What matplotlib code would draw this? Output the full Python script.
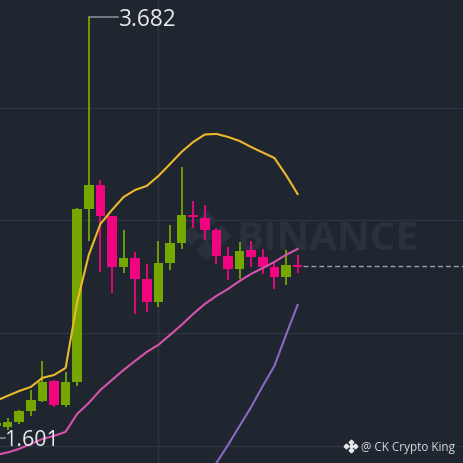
import matplotlib
matplotlib.use("Agg")
import matplotlib.pyplot as plt
import numpy as np

# kolejne swiece, od lewej
opens = [1.660, 1.657, 1.680, 1.734, 1.785, 1.884, 1.764, 1.879, 2.733, 2.852, 2.698, 2.445, 2.491, 2.387,
         2.272, 2.467, 2.566, 2.703, 2.687, 2.629, 2.501, 2.438, 2.530, 2.494, 2.445, 2.398, 2.456]
closes = [1.675, 1.682, 1.734, 1.789, 1.879, 1.764, 1.878, 2.733, 2.852, 2.700, 2.446, 2.492, 2.388, 2.272,
          2.467, 2.563, 2.703, 2.693, 2.629, 2.501, 2.438, 2.527, 2.494, 2.445, 2.398, 2.456, 2.446]
highs = [1.690, 1.700, 1.739, 1.838, 1.983, 1.888, 1.927, 2.738, 3.682, 2.876, 2.698, 2.629, 2.520, 2.461,
         2.576, 2.654, 2.941, 2.772, 2.753, 2.639, 2.547, 2.568, 2.575, 2.535, 2.466, 2.530, 2.506]
lows = [1.601, 1.640, 1.670, 1.711, 1.779, 1.754, 1.754, 1.859, 2.576, 2.423, 2.319, 2.418, 2.214, 2.225,
        2.250, 2.431, 2.535, 2.640, 2.580, 2.461, 2.382, 2.387, 2.448, 2.410, 2.337, 2.359, 2.418]

# wstegi Bollingera
upper = [1.784, 1.809, 1.833, 1.853, 1.898, 1.912, 1.947, 2.273, 2.506, 2.659, 2.728, 2.792, 2.827, 2.847,
         2.896, 2.955, 3.015, 3.064, 3.101, 3.104, 3.089, 3.069, 3.039, 3.012, 2.985, 2.901, 2.807]
middle = [1.517, 1.529, 1.547, 1.571, 1.596, 1.611, 1.631, 1.720, 1.774, 1.838, 1.888, 1.937, 1.982, 2.026,
          2.061, 2.110, 2.160, 2.214, 2.263, 2.303, 2.337, 2.377, 2.412, 2.441, 2.471, 2.506, 2.535]
lower = [1.383, 1.477, 1.566, 1.660, 1.754, 1.858, 1.957, 2.110, 2.258]
lower_start = 18

grid_prices = [3.232, 2.679, 2.120, 1.561]
grid_candle = 14
last_price = 2.451

BG = "#1f2630"
GREEN = "#76a700"
PINK = "#f0047f"

fig = plt.figure(figsize=(4.63, 4.63), dpi=100, facecolor=BG)
ax = fig.add_axes([0, 0, 1, 1], facecolor=BG)
ax.set_xlim(0.345, 40.26)
ax.set_ylim(1.477, 3.766)
ax.axis("off")

for p in grid_prices:
    ax.axhline(p, color="#2d3540", lw=1.0, zorder=1)
ax.axvline(grid_candle, color="#2d3540", lw=1.0, zorder=1)

# znak wodny
ax.text(0.708, 0.4925, "BINANCE", transform=ax.transAxes, ha="center", va="center_baseline", fontsize=29,
        fontweight="bold", family="Open Sans", color="#2a313d", zorder=1.5)
logo_x = 0.445
logo_y = 0.4925
ax.plot([logo_x], [logo_y], "D", ms=7, color="#2a313d", transform=ax.transAxes, zorder=1.5)
for dx, dy in [(-0.032, 0), (0.032, 0), (0, -0.032), (0, 0.032)]:
    ax.plot([logo_x + dx], [logo_y + dy], "D", ms=9, color="#2a313d", transform=ax.transAxes, zorder=1.5)

x = np.arange(len(opens))
opens_a = np.array(opens)
closes_a = np.array(closes)
colors = [GREEN if c >= o else PINK for o, c in zip(opens, closes)]
ax.vlines(x, lows, highs, colors=colors, lw=1.3, zorder=2)
ax.bar(x, np.abs(closes_a - opens_a), bottom=np.minimum(opens_a, closes_a), width=0.82, color=colors, zorder=2)

ax.plot(x, upper, color="#eeb82c", lw=1.5, zorder=3)
ax.plot(x, middle, color="#d653ac", lw=1.5, zorder=3)
ax.plot(np.arange(len(lower)) + lower_start, lower, color="#8b68c2", lw=1.5, zorder=3)

# ostatnia cena
ax.plot([26.5, 41], [last_price, last_price], color="#9ea2aa", lw=1.0, dashes=(3.5, 2.2), zorder=2)

# max i min
ax.plot([8, 10.5], [highs[8], highs[8]], color="#8e9299", lw=1.1, zorder=3)
ax.text(10.6, highs[8], "3.682", color="#e6e8ea", fontsize=16.3, family="Open Sans", va="center_baseline", zorder=4)
ax.plot([0, 0.75], [lows[0], lows[0]], color="#8e9299", lw=1.1, zorder=3)
ax.text(0.68, lows[0], "1.601", color="#e6e8ea", fontsize=15.4, family="Open Sans", va="center_baseline", zorder=4)

# stopka
ax.text(0.983, 0.0365, "@ CK Crypto King", transform=ax.transAxes, ha="right", va="center_baseline", fontsize=8.5,
        family="Open Sans", color="#d5d7da", zorder=4)
foot_x = 0.7575
foot_y = 0.0365
ax.plot([foot_x], [foot_y], "D", ms=1.8, color="#e6e8ea", transform=ax.transAxes, zorder=4)
for dx, dy in [(-0.0095, 0), (0.0095, 0), (0, -0.0095), (0, 0.0095)]:
    ax.plot([foot_x + dx], [foot_y + dy], "D", ms=2.4, color="#e6e8ea", transform=ax.transAxes, zorder=4)

fig.savefig("out.png", dpi=100, facecolor=BG)
